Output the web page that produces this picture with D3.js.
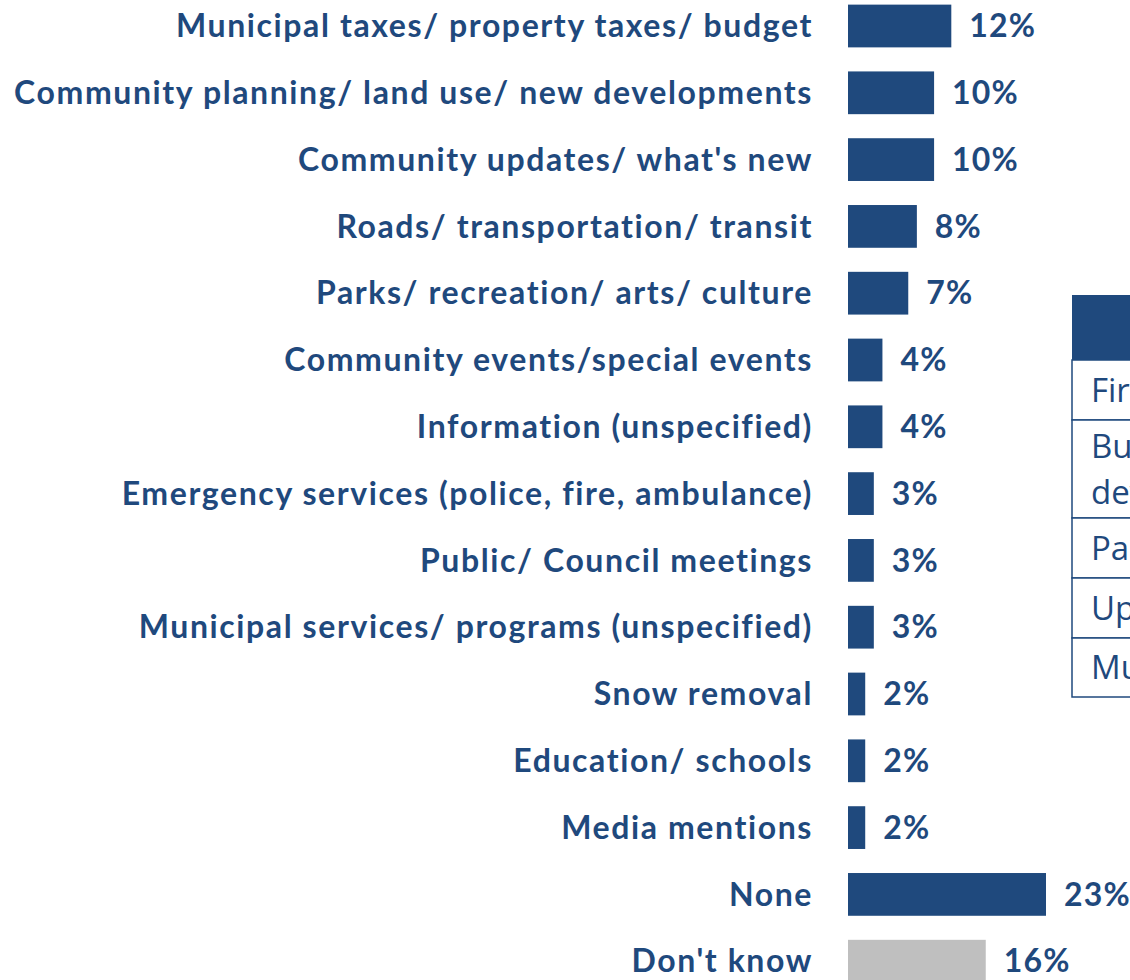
<!DOCTYPE html>
<html><head><meta charset="utf-8">
<script src="https://cdn.jsdelivr.net/npm/d3@7"></script>
<style>body{margin:0;background:#fff;overflow:hidden}svg{display:block}</style>
</head><body>
<script>
const categories = ["Municipal taxes/ property taxes/ budget","Community planning/ land use/ new developments","Community updates/ what's new","Roads/ transportation/ transit","Parks/ recreation/ arts/ culture","Community events/special events","Information (unspecified)","Emergency services (police, fire, ambulance)","Public/ Council meetings","Municipal services/ programs (unspecified)","Snow removal","Education/ schools","Media mentions","None","Don't know"];
const values = [12,10,10,8,7,4,4,3,3,3,2,2,2,23,16];
const tableRows = [["First Nations"],["Business/ economic","development"],["Parks"],["Upcoming events"],["Municipal"]];
const tableHeader = ["Topic"];

const W=1130,H=980;
const svg=d3.select("body").append("svg").attr("width",W).attr("height",H);
const blue="#1F497D", gray="#BFBFBF";
const x=d3.scaleLinear().domain([0,23]).range([848,1046]);
const y=d3.scaleBand().domain(categories).range([-7.4,994.6]).paddingInner(0.36).paddingOuter(0.18);
const font="Lato, 'Open Sans', sans-serif";

svg.selectAll("rect.bar").data(categories).join("rect").attr("class","bar")
  .attr("x",x(0)).attr("y",d=>y(d)).attr("width",(d,i)=>x(values[i])-x(0)).attr("height",y.bandwidth())
  .attr("fill",(d,i)=>d==="Don't know"?gray:blue);

svg.selectAll("text.lab").data(categories).join("text").attr("class","lab")
  .attr("x",813).attr("y",d=>y(d)+y.bandwidth()/2).attr("dy","0.35em").attr("text-anchor","end")
  .attr("font-family",font).attr("font-weight","bold").attr("font-size",32).attr("letter-spacing",1.6)
  .attr("fill",blue).text(d=>d);

svg.selectAll("text.val").data(categories).join("text").attr("class","val")
  .attr("x",(d,i)=>x(values[i])+18).attr("y",d=>y(d)+y.bandwidth()/2).attr("dy","0.35em")
  .attr("font-family",font).attr("font-weight","bold").attr("font-size",32).attr("letter-spacing",1.2)
  .attr("fill",blue).text((d,i)=>values[i]+"%");

// table
const tx=1072, ty=295, headH=65;
const rowH=[60,98,60,60,59];
const tg=svg.append("g");
tg.append("rect").attr("x",tx).attr("y",ty).attr("width",200).attr("height",headH).attr("fill",blue);
tg.append("text").attr("x",tx+200).attr("y",ty+headH/2).attr("dy","0.35em").attr("fill","#fff").attr("font-family","'Open Sans',sans-serif").attr("font-size",30).text(tableHeader[0]);
let yy=ty+headH;
tableRows.forEach((words,i)=>{
  tg.append("rect").attr("x",tx).attr("y",yy).attr("width",200).attr("height",rowH[i]).attr("fill","#fff").attr("stroke",blue).attr("stroke-width",1.5);
  const t=tg.append("text").attr("font-family","'Open Sans',sans-serif").attr("font-size",33).attr("fill",blue);
  words.forEach((w,k)=>t.append("tspan").attr("x",tx+19).attr("y",yy+rowH[i]/2+(k-(words.length-1)/2)*46).attr("dy","0.35em").text(w));
  yy+=rowH[i];
});
</script>
</body></html>
